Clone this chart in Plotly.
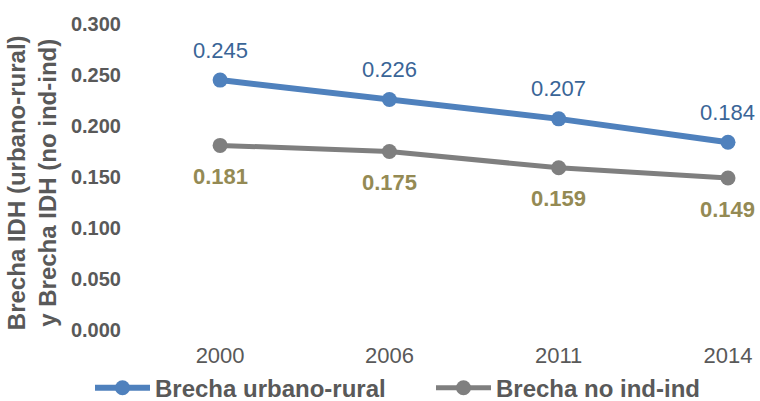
import plotly.graph_objects as go

years = ["2000", "2006", "2011", "2014"]
urbano_rural = [0.245, 0.226, 0.207, 0.184]
no_ind_ind = [0.181, 0.175, 0.159, 0.149]
y_ticks = [0.0, 0.05, 0.10, 0.15, 0.20, 0.25, 0.30]
y_title = "<b>Brecha IDH (urbano-rural)<br>y Brecha IDH (no ind-ind)</b>"

BLUE = "#4F81BD"
GRAY = "#7F7F7F"
BLUE_TXT = "#3A6597"
OLIVE_TXT = "#948A54"
AXIS_TXT = "#595959"
FONT = "Liberation Sans, Arial, sans-serif"

W, H = 760, 401

fig = go.Figure()
fig.add_trace(go.Scatter(
    x=years, y=urbano_rural, mode="lines+markers", name="<b>Brecha urbano-rural</b>",
    line=dict(color=BLUE, width=6), marker=dict(color=BLUE, size=15), legend="legend",
))
fig.add_trace(go.Scatter(
    x=years, y=no_ind_ind, mode="lines+markers", name="<b>Brecha no ind-ind</b>",
    line=dict(color=GRAY, width=5), marker=dict(color=GRAY, size=15), legend="legend2",
))

annotations = []
for i, v in enumerate(urbano_rural):
    annotations.append(dict(x=i, y=v, xref="x", yref="y", text=f"{v:.3f}", showarrow=False, yshift=30,
                            font=dict(family=FONT, size=22, color=BLUE_TXT)))
for i, v in enumerate(no_ind_ind):
    annotations.append(dict(x=i, y=v, xref="x", yref="y", text=f"<b>{v:.3f}</b>", showarrow=False, yshift=-31,
                            font=dict(family=FONT, size=22, color=OLIVE_TXT)))
# y-axis title
annotations.append(dict(x=-0.1543, y=0.48, xref="paper", yref="paper", text=y_title,
                        textangle=-90, showarrow=False, xanchor="center", yanchor="middle",
                        font=dict(family=FONT, size=24, color=AXIS_TXT)))

legend_common = dict(orientation="h", xref="container", xanchor="left",
                     yref="paper", y=-0.19, yanchor="middle",
                     bgcolor="rgba(0,0,0,0)",
                     font=dict(family=FONT, size=24, color=AXIS_TXT), itemwidth=55)

fig.update_layout(
    width=W, height=H,
    margin=dict(l=128, r=10, t=24, b=71, autoexpand=False),
    paper_bgcolor="white", plot_bgcolor="white",
    font=dict(family=FONT, color=AXIS_TXT),
    showlegend=True,
    legend=dict(x=90 / W, **legend_common),
    legend2=dict(x=431 / W, **legend_common),
    annotations=annotations,
    xaxis=dict(type="category", range=[-0.544, 3.13], showgrid=False, showline=False,
               zeroline=False, ticks="", automargin=False, ticklabelstandoff=10,
               tickfont=dict(family=FONT, size=22, color=AXIS_TXT)),
    yaxis=dict(range=[0, 0.3], tickvals=y_ticks, ticktext=[f"<b>{t:.3f}</b>" for t in y_ticks],
               showgrid=False, showline=False, zeroline=False, ticks="", automargin=False,
               ticklabelstandoff=6,
               tickfont=dict(family=FONT, size=20, color=AXIS_TXT)),
)
fig.write_html("out.html", config={"displayModeBar": False},
               post_script="document.body.style.margin='0';")
